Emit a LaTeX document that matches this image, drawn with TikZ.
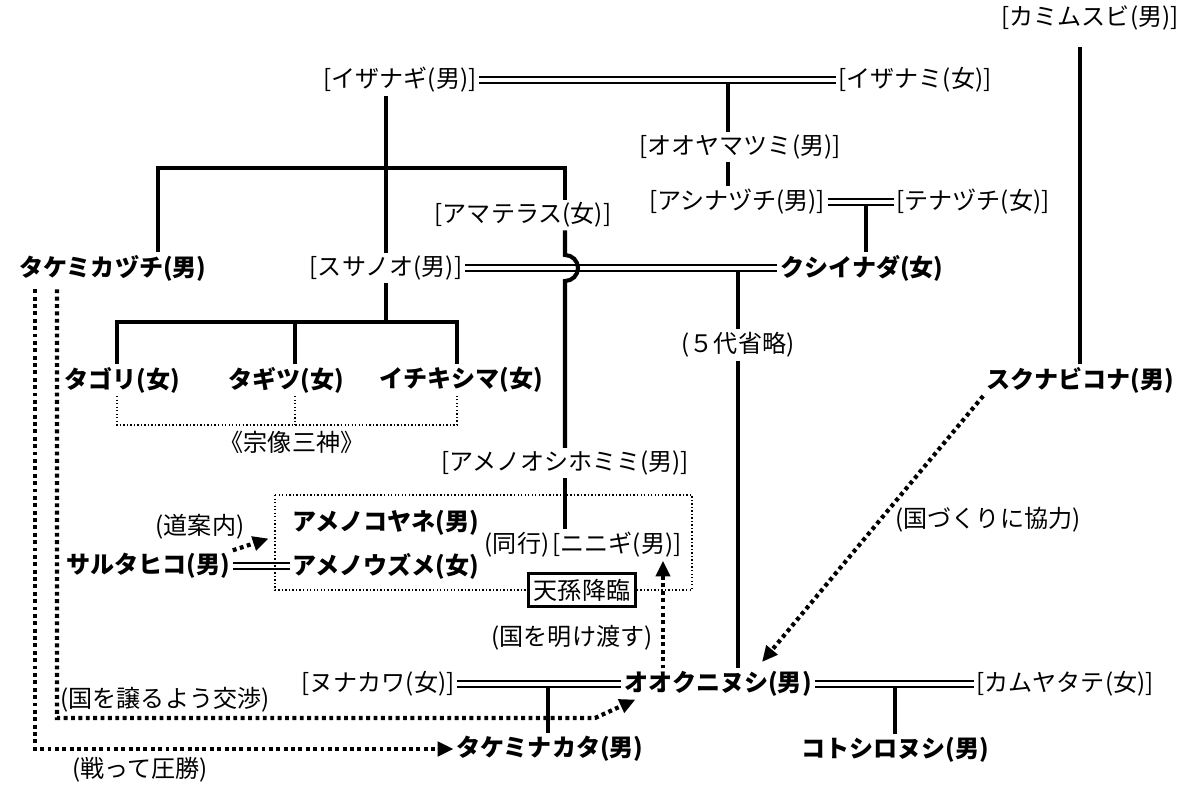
\documentclass[tikz,border=0pt]{standalone}
\usepackage{fontspec}
\setmainfont{Noto Sans CJK JP}
\usetikzlibrary{arrows.meta}
\begin{document}
\begin{tikzpicture}[x=0.02cm, y=-0.02cm, font=\fontsize{13.7}{16}\selectfont,
	every node/.style={inner sep=1.5pt},
	main/.style={font=\fontsize{13.7}{16}\selectfont\bfseries},
	parent/.style={line width=2.3pt},
	couple/.style={double, double distance=2pt, line width=1pt},
	act/.style={line width=2.4pt, dash pattern=on 2.2pt off 2pt, -{Triangle[length=9pt,width=8pt]}},
	group/.style={line width=0.7pt, dash pattern=on 0.8pt off 1.2pt}]
	\useasboundingbox (0,0) rectangle (1200,787);
	%\draw[gray!30] (0,0) grid[step=50] (1200,787);
	\node (kamimusubi) at (1090,18) {[カミムスビ(男)]};
	\node (izanagi) at (400,80) {[イザナギ(男)]};
	\node (izanami) at (915,80) {[イザナミ(女)]};
	\node (ooyamatsumi) at (740,147) {[オオヤマツミ(男)]};
	\node (ashinazuchi) at (737,202) {[アシナヅチ(男)]};
	\node (tenazuchi) at (973,202) {[テナヅチ(女)]};
	\node (amaterasu) at (523,215) {[アマテラス(女)]};
	\node[main] (takemikazuchi) at (113,268) {タケミカヅチ(男)};
	\node (susanoo) at (386,268) {[スサノオ(男)]};
	\node[main] (kushinada) at (862,268) {クシイナダ(女)};
	\node (omit) at (738,345) {(５代省略)};
	\node[main] (tagori) at (122,380) {タゴリ(女)};
	\node[main] (tagitsu) at (286,380) {タギツ(女)};
	\node[main] (ichikishima) at (461,380) {イチキシマ(女)};
	\node[main] (sukunabikona) at (1080,380) {スクナビコナ(男)};
	\node (munakata) at (292,442) {《宗像三神》};
	\node (oshihomimi) at (565,463) {[アメノオシホミミ(男)]};
	\node (guide) at (200,527) {(道案内)};
	\node[main] (koyane) at (386,523) {アメノコヤネ(男)};
	\node (together) at (517,545) {(同行)};
	\node (ninigi) at (617,545) {[ニニギ(男)]};
	\node[main] (sarutahiko) at (148,566) {サルタヒコ(男)};
	\node[main] (uzume) at (386,566) {アメノウズメ(女)};
	\node (help) at (988,520) {(国づくりに協力)};
	\node (handover) at (572,638) {(国を明け渡す)};
	\node (nunakawa) at (378,684) {[ヌナカワ(女)]};
	\node[main] (ookuninushi) at (718,684) {オオクニヌシ(男)};
	\node (kamuyatate) at (1065,684) {[カムヤタテ(女)]};
	\node (talks) at (165,700) {(国を譲るよう交渉)};
	\node[main] (takeminakata) at (550,749) {タケミナカタ(男)};
	\node[main] (kotoshironushi) at (895,750) {コトシロヌシ(男)};
	\node (victory) at (140,770) {(戦って圧勝)};
	% couples
	\draw[couple] (izanagi) -- (izanami);
	\draw[couple] (ashinazuchi) -- (tenazuchi);
	\draw[couple] (susanoo) -- (kushinada);
	\draw[couple] (sarutahiko) -- (uzume);
	\draw[couple] (nunakawa) -- (ookuninushi);
	\draw[couple] (ookuninushi) -- (kamuyatate);
	% lines of descent
	\coordinate (b1) at (158,168); \coordinate (b2) at (565,168);
	\coordinate (hop) at (565,255);
	\draw[parent] (izanagi.south -| susanoo) -- (susanoo);
	\draw[parent] (takemikazuchi.north -| b1) -- (b1) -- (b2) -- (amaterasu.north -| b2);
	\draw[parent] (amaterasu.south -| hop) -- (hop) arc[start angle=-90, end angle=90, radius=13]
		-- (oshihomimi.north -| hop);
	\draw[parent] (oshihomimi.south -| hop) -- (ninigi.north -| hop);
	\coordinate (c0) at (386,322); \coordinate (c1) at (117,322);
	\coordinate (c2) at (295,322); \coordinate (c3) at (457,322);
	\draw[parent] (susanoo) -- (c0);
	\draw[parent] (tagori.north -| c1) -- (c1) -- (c3) -- (ichikishima.north -| c3);
	\draw[parent] (c2) -- (tagitsu.north -| c2);
	\coordinate (m1) at (728,84); \coordinate (m2) at (866,206);
	\coordinate (m3) at (738,272); \coordinate (m4) at (895,688); \coordinate (m5) at (548,688);
	\draw[parent] (m1) -- (ooyamatsumi.north -| m1);
	\draw[parent] (ooyamatsumi.south -| m1) -- (ashinazuchi.north -| m1);
	\draw[parent] (m2) -- (kushinada.north -| m2);
	\draw[parent] (m3) -- (omit);
	\draw[parent] (omit) -- (ookuninushi.north -| omit);
	\draw[parent, shorten <=8pt] (kamimusubi.south -| sukunabikona) -- (sukunabikona);
	\draw[parent] (m4) -- (kotoshironushi);
	\draw[parent] (m5) -- (takeminakata.north -| m5);
	% groups
	\coordinate (g1) at (117,425); \coordinate (g2) at (295,425); \coordinate (g3) at (457,425);
	\draw[group] (tagori.south -| g1) -- (g1) -- (g3) -- (ichikishima.south -| g3);
	\draw[group] (tagitsu.south -| g2) -- (g2);
	\draw[group] (275,495) rectangle (692,590);
	\node[draw, line width=1.6pt, inner sep=3pt, fill=white] (tenson) at (582,590) {天孫降臨};
	% actions
	\coordinate (t1) at (35,749); \coordinate (t2) at (57,718); \coordinate (t3) at (595,718);
	\coordinate (a1) at (663,0); \coordinate (a2) at (762,662);
	\draw[act] (sarutahiko.north east) -- ([xshift=-12pt]koyane.south west);
	\draw[act, shorten <=3pt] (takemikazuchi.south -| t1) -- (t1) -- (takeminakata);
	\draw[act, shorten <=3pt] (takemikazuchi.south -| t2) -- (t2) -- (t3) -- ([xshift=8pt]ookuninushi.south west);
	\draw[act] (ookuninushi.north -| a1) -- (ninigi.south -| a1);
	\draw[act] (sukunabikona.south west) -- (a2);
\end{tikzpicture}
\end{document}
